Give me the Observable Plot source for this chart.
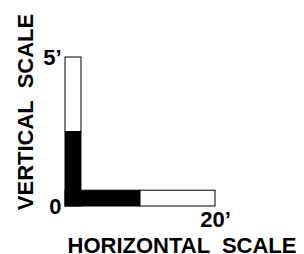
<!DOCTYPE html>
<html>
<head>
<meta charset="utf-8">
<script src="https://cdn.jsdelivr.net/npm/d3@7"></script>
<script src="https://cdn.jsdelivr.net/npm/@observablehq/plot@0.6"></script>
<style>
  html, body { margin: 0; padding: 0; background: #fff; }
  svg { display: block; }
</style>
</head>
<body>
<div id="chart"></div>
<script>
// Horizontal scale segments (feet)
const hStart = [0, 10];
const hEnd = [10, 20];
const hShade = ["solid", "open"];
// Vertical scale segments (feet)
const vStart = [0, 2.5];
const vEnd = [2.5, 5];
const vShade = ["solid", "open"];
// Tick labels
const xTicks = [20];
const xTickLabels = ["20’"];
const yTicks = [0, 5];
const yTickLabels = ["0", "5’"];
const xTitle = "HORIZONTAL  SCALE";
const yTitle = "VERTICAL  SCALE";

const hBars = hStart.map((s, i) => ({x1: s, x2: hEnd[i], shade: hShade[i]}));
const vBars = vStart.map((s, i) => ({y1: s, y2: vEnd[i], shade: vShade[i]}));

const barH = 0.53;   // bar thickness in y units
const barW = 2.13;   // bar thickness in x units

const font = "Liberation Sans, Arial, sans-serif";

const chart = Plot.plot({
  width: 304,
  height: 254,
  marginLeft: 65,
  marginRight: 89,
  marginTop: 57,
  marginBottom: 48,
  style: {fontFamily: font, fontWeight: "bold", background: "white", color: "black"},
  x: {domain: [0, 20], axis: null},
  y: {domain: [0, 5], axis: null},
  color: {domain: ["solid", "open"], range: ["black", "white"]},
  marks: [
    Plot.rect(vBars, {x1: 0, x2: barW, y1: "y1", y2: "y2", fill: "shade", stroke: "black", strokeWidth: 1}),
    Plot.rect(hBars, {x1: "x1", x2: "x2", y1: 0, y2: barH, fill: "shade", stroke: "black", strokeWidth: 1}),
    Plot.rect(vBars.filter(d => d.shade === "solid"), {x1: 0, x2: barW, y1: "y1", y2: "y2", fill: "shade"}),
    Plot.axisX({ticks: xTicks, tickFormat: (d) => xTickLabels[xTicks.indexOf(d)], tickSize: 0, tickPadding: 5, fontSize: 22, label: null, fontWeight: "bold"}),
    Plot.axisY({ticks: yTicks, tickFormat: (d) => yTickLabels[yTicks.indexOf(d)], tickSize: 0, tickPadding: 4, fontSize: 22, label: null, fontWeight: "bold"}),
    Plot.text([xTitle], {text: d => d, frameAnchor: "bottom", textAnchor: "middle", dx: 41.5, dy: 39.4, lineAnchor: "middle", fontSize: 22, fontWeight: "bold"}),
    Plot.text([yTitle], {text: d => d, frameAnchor: "left", textAnchor: "middle", rotate: -90, dx: -40, dy: -20, lineAnchor: "middle", fontSize: 22, fontWeight: "bold"})
  ]
});
document.getElementById("chart").appendChild(chart);
</script>
</body>
</html>
